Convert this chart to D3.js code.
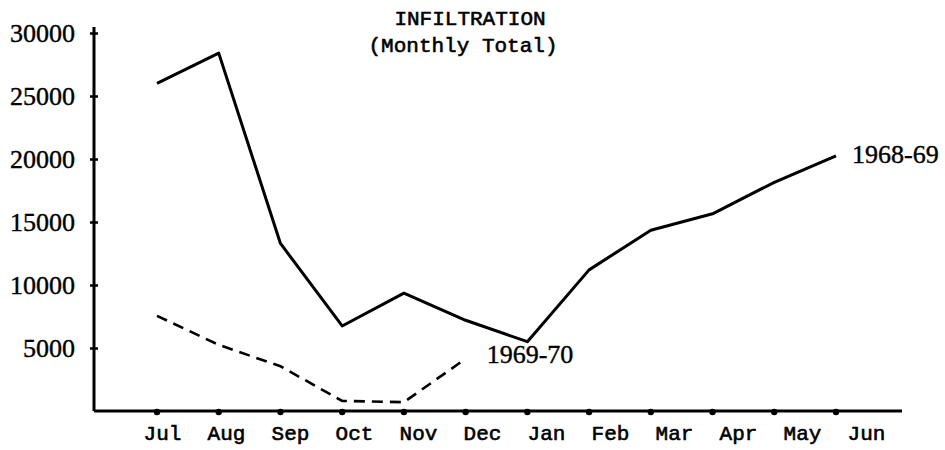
<!DOCTYPE html>
<html>
<head>
<meta charset="utf-8">
<script src="https://cdn.jsdelivr.net/npm/d3@7"></script>
<style>
  body { margin: 0; background: #fff; }
  svg { display: block; }
</style>
</head>
<body>
<svg width="945" height="450"></svg>
<script>
var months = ["Jul", "Aug", "Sep", "Oct", "Nov", "Dec", "Jan", "Feb", "Mar", "Apr", "May", "Jun"];
var yTicks = [5000, 10000, 15000, 20000, 25000, 30000];
// 1968-69, full year
var infil6869 = [26000, 28400, 13300, 6750, 9350, 7200, 5500, 11200, 14350, 15650, 18150, 20250];
// 1969-70, only Jul-Dec
var infil6970 = [7550, 5250, 3550, 800, 700, 4150];
var seriesLabels = ["1968-69", "1969-70"];

var svg = d3.select("svg");
var axisLeftX = 94, axisRightX = 902, axisTopY = 27, baseY = 411;

var x = d3.scalePoint().domain(months).range([157, 836]);
// month labels sit a bit right of the ticks and spread wider
var xLab = d3.scalePoint().domain(months).range([162, 866]);
var y = d3.scaleLinear().domain([0, 30000]).range([baseY, 33]);

var serif = "'Liberation Serif', 'Times New Roman', serif";
var mono = "'Liberation Mono', 'Courier New', monospace";

// title
svg.append("text")
  .attr("x", 470).attr("y", 25)
  .attr("text-anchor", "middle")
  .style("font-family", mono).style("font-size", "21px")
  .attr("stroke", "#000").attr("stroke-width", 0.6)
  .text("INFILTRATION");
svg.append("text")
  .attr("x", 463).attr("y", 52)
  .attr("text-anchor", "middle")
  .style("font-family", mono).style("font-size", "21px")
  .attr("stroke", "#000").attr("stroke-width", 0.6)
  .text("(Monthly Total)");

// axes lines
svg.append("line")
  .attr("x1", axisLeftX).attr("x2", axisLeftX)
  .attr("y1", axisTopY).attr("y2", baseY)
  .attr("stroke", "#000").attr("stroke-width", 3);
svg.append("line")
  .attr("x1", axisLeftX).attr("x2", axisRightX)
  .attr("y1", baseY).attr("y2", baseY)
  .attr("stroke", "#000").attr("stroke-width", 3);

// y axis ticks + labels
var gy = svg.append("g")
  .attr("transform", "translate(" + axisLeftX + ",0)")
  .call(d3.axisLeft(y).tickValues(yTicks).tickFormat(d3.format("d")).tickSize(4).tickPadding(15));
gy.select(".domain").remove();
gy.selectAll(".tick line").attr("x1", -4).attr("x2", 4).attr("stroke-width", 2.5);
gy.selectAll(".tick text")
  .style("font-family", serif).style("font-size", "26px").attr("fill", "#000")
  .attr("stroke", "#000").attr("stroke-width", 0.4);

// x axis: dots on the baseline
svg.append("g").selectAll("circle")
  .data(months)
  .enter().append("circle")
  .attr("cx", function(d) { return x(d); })
  .attr("cy", baseY + 1)
  .attr("r", 3.2)
  .attr("fill", "#000");

var gx = svg.append("g")
  .attr("transform", "translate(0," + baseY + ")")
  .call(d3.axisBottom(xLab).tickSize(0).tickPadding(14));
gx.select(".domain").remove();
gx.selectAll(".tick text")
  .style("font-family", mono).style("font-size", "21px").attr("fill", "#000")
  .attr("stroke", "#000").attr("stroke-width", 0.6);

var line = d3.line()
  .x(function(d, i) { return x(months[i]); })
  .y(function(d) { return y(d); });

svg.append("path")
  .datum(infil6869)
  .attr("d", line)
  .attr("fill", "none")
  .attr("stroke", "#000")
  .attr("stroke-width", 3)
  .attr("stroke-linejoin", "round");

svg.append("path")
  .datum(infil6970)
  .attr("d", line)
  .attr("fill", "none")
  .attr("stroke", "#000")
  .attr("stroke-width", 2.6)
  .attr("stroke-dasharray", "11,7");

// series labels near the end of each line
var last1 = infil6869.length - 1, last2 = infil6970.length - 1;
svg.append("text")
  .attr("x", x(months[last1]) + 16)
  .attr("y", y(infil6869[last1]) + 7)
  .style("font-family", serif).style("font-size", "26px")
  .attr("stroke", "#000").attr("stroke-width", 0.4)
  .text(seriesLabels[0]);
svg.append("text")
  .attr("x", x(months[last2]) + 21)
  .attr("y", y(infil6970[last2]) + 4)
  .style("font-family", serif).style("font-size", "26px")
  .attr("stroke", "#000").attr("stroke-width", 0.4)
  .text(seriesLabels[1]);
</script>
</body>
</html>
